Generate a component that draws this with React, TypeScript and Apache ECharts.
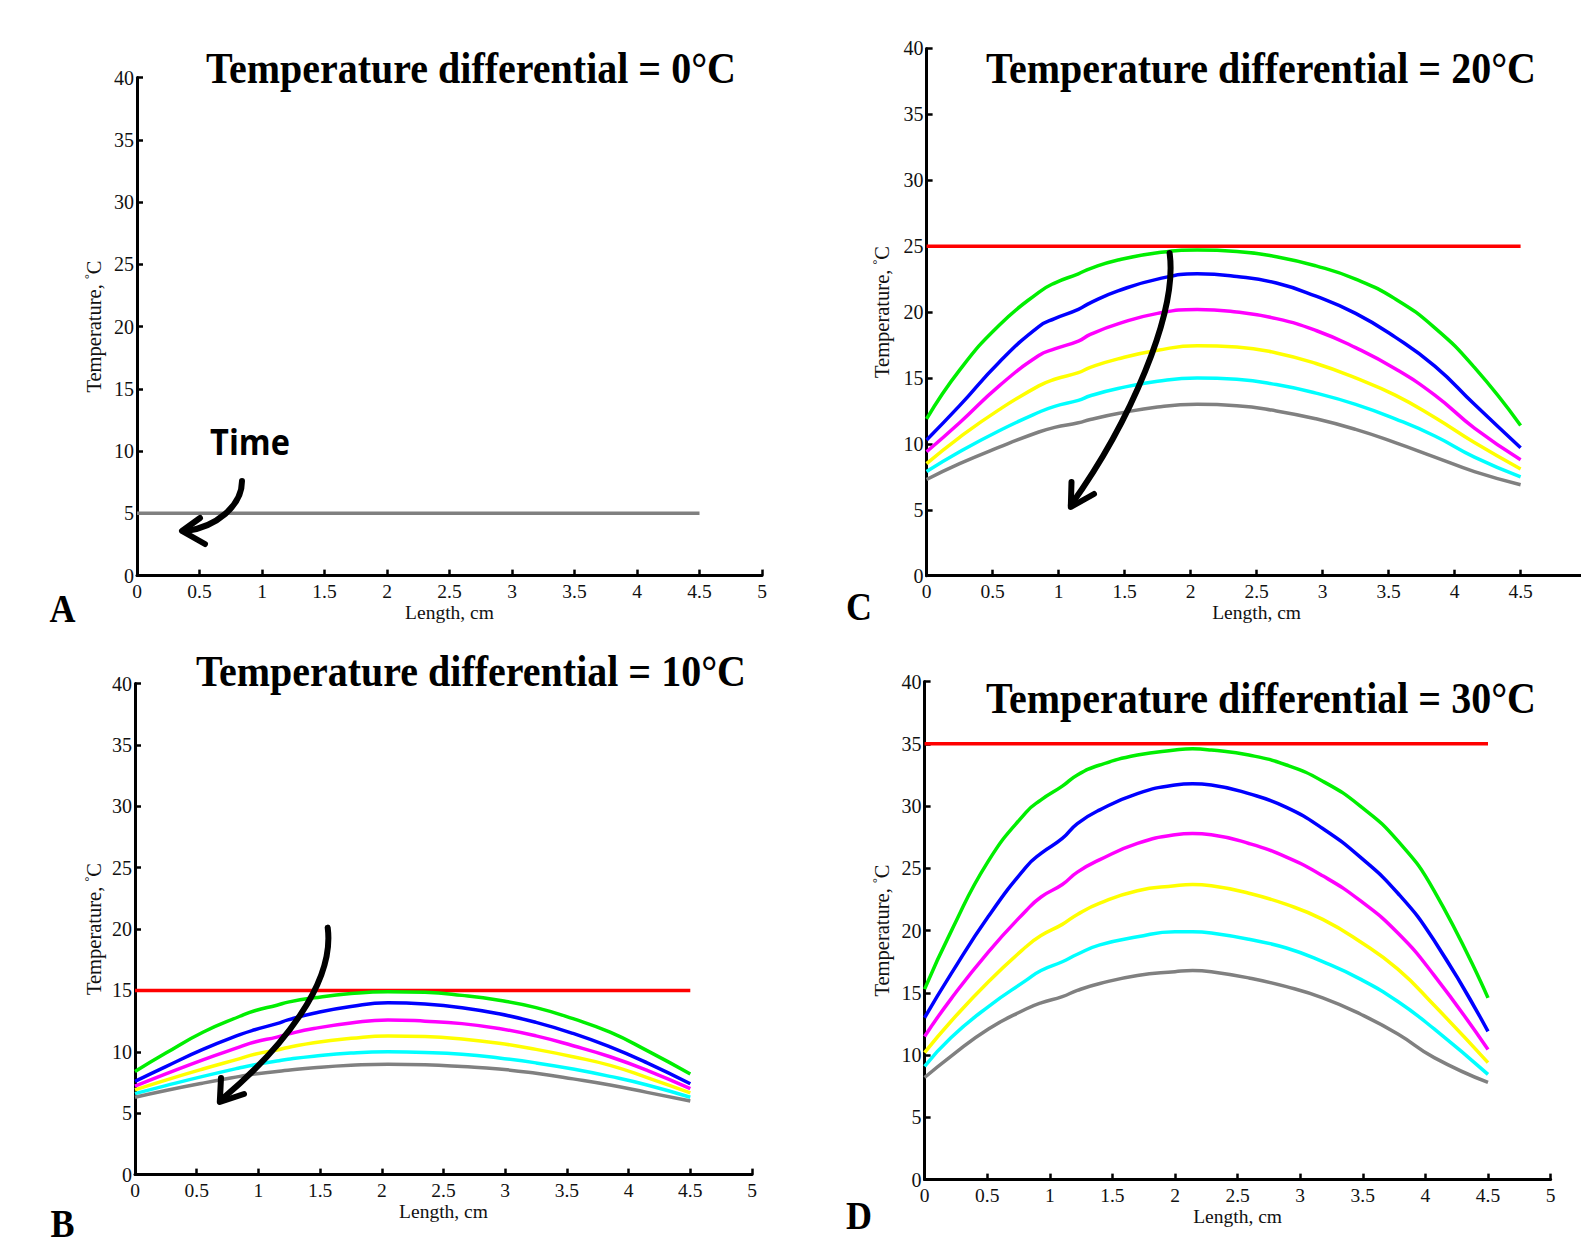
import React, { useEffect, useRef } from "react";
import * as echarts from "echarts";

// ---- data ----
const xTicksMax = 5;
const yTicksMax = 40;

const panelTitles = [
  "Temperature differential = 0°C",
  "Temperature differential = 10°C",
  "Temperature differential = 20°C",
  "Temperature differential = 30°C",
];
const panelLetters = ["A", "B", "C", "D"];
const seriesColors = ["#00ee00", "#0000ff", "#ff00ff", "#ffff00", "#00ffff", "#808080"];

// Panel A: single initial line
const xA = [0, 4.5];
const grayA = [5, 5];

// Panel B (differential 10)
const xB = [0, 0.25, 0.55, 0.85, 0.97, 1.15, 1.24, 1.45, 1.75, 2.05, 2.35, 2.65, 2.95, 3.25, 3.55, 3.85, 4.15, 4.5];
const redB = 15;
const greenB = [8.4, 9.9, 11.6, 12.9, 13.35, 13.8, 14.05, 14.4, 14.75, 14.9, 14.85, 14.6, 14.2, 13.6, 12.7, 11.6, 10.1, 8.2];
const blueB = [7.6, 8.8, 10.2, 11.4, 11.8, 12.3, 12.6, 13.15, 13.7, 14.0, 13.9, 13.6, 13.1, 12.4, 11.5, 10.4, 9.1, 7.4];
const magentaB = [7.2, 8.2, 9.35, 10.4, 10.8, 11.2, 11.45, 11.9, 12.35, 12.6, 12.5, 12.3, 11.9, 11.3, 10.5, 9.6, 8.5, 7.0];
const yellowB = [6.9, 7.7, 8.6, 9.45, 9.8, 10.15, 10.35, 10.75, 11.1, 11.3, 11.25, 11.05, 10.7, 10.2, 9.6, 8.9, 7.9, 6.65];
const cyanB = [6.6, 7.25, 8.0, 8.7, 8.95, 9.25, 9.4, 9.65, 9.9, 10.0, 9.95, 9.8, 9.5, 9.1, 8.6, 8.0, 7.3, 6.3];
const grayB = [6.3, 6.85, 7.45, 8.0, 8.2, 8.4, 8.5, 8.7, 8.9, 9.0, 8.95, 8.8, 8.6, 8.25, 7.8, 7.3, 6.7, 6.0];

// Panel C (differential 20)
const xC = [0, 0.25, 0.55, 0.85, 0.97, 1.15, 1.24, 1.45, 1.75, 2.05, 2.35, 2.65, 2.95, 3.25, 3.55, 3.85, 4.15, 4.5];
const redC = 25;
const greenC = [11.9, 15.6, 19.0, 21.5, 22.2, 22.9, 23.3, 23.95, 24.5, 24.7, 24.6, 24.2, 23.5, 22.5, 21.0, 18.8, 15.8, 11.4];
const blueC = [10.3, 12.9, 16.2, 18.9, 19.5, 20.2, 20.7, 21.6, 22.5, 22.9, 22.7, 22.2, 21.2, 19.9, 18.1, 15.9, 13.0, 9.7];
const magentaC = [9.4, 11.6, 14.4, 16.7, 17.2, 17.8, 18.3, 19.1, 19.9, 20.2, 20.0, 19.5, 18.6, 17.3, 15.7, 13.7, 11.2, 8.8];
const yellowC = [8.5, 10.5, 12.6, 14.4, 14.9, 15.4, 15.8, 16.45, 17.1, 17.45, 17.35, 16.9, 16.1, 15.0, 13.7, 12.0, 10.1, 8.1];
const cyanC = [7.9, 9.4, 11.0, 12.4, 12.85, 13.3, 13.65, 14.2, 14.75, 15.0, 14.9, 14.5, 13.85, 13.0, 11.9, 10.6, 9.0, 7.5];
const grayC = [7.3, 8.5, 9.75, 10.9, 11.25, 11.6, 11.85, 12.3, 12.8, 13.0, 12.9, 12.5, 11.9, 11.1, 10.1, 9.0, 7.9, 6.9];

// Panel D (differential 30)
const xD = [0, 0.21, 0.51, 0.81, 0.93, 1.10, 1.22, 1.40, 1.70, 2.0, 2.14, 2.29, 2.59, 2.89, 3.18, 3.48, 3.78, 4.07, 4.5];
const redD = 35;
const greenD = [15.3, 19.9, 25.6, 29.5, 30.5, 31.6, 32.5, 33.3, 34.1, 34.5, 34.6, 34.5, 34.1, 33.3, 32.0, 30.0, 27.2, 23.2, 14.6];
const blueD = [13.0, 16.5, 21.15, 25.1, 26.2, 27.4, 28.6, 29.7, 31.0, 31.7, 31.8, 31.7, 31.0, 29.9, 28.2, 25.9, 23.0, 19.2, 11.9];
const magentaD = [11.5, 14.5, 18.3, 21.6, 22.7, 23.7, 24.7, 25.7, 27.0, 27.7, 27.8, 27.7, 27.0, 25.9, 24.4, 22.4, 19.8, 16.4, 10.45];
const yellowD = [10.2, 12.7, 15.9, 18.7, 19.6, 20.5, 21.3, 22.2, 23.2, 23.6, 23.7, 23.6, 23.0, 22.1, 20.9, 19.1, 16.9, 14.0, 9.4];
const cyanD = [9.1, 11.4, 13.9, 16.0, 16.8, 17.5, 18.1, 18.85, 19.5, 19.9, 19.9, 19.8, 19.3, 18.6, 17.5, 16.1, 14.3, 12.1, 8.45];
const grayD = [8.2, 9.9, 12.1, 13.7, 14.2, 14.7, 15.2, 15.75, 16.4, 16.7, 16.8, 16.7, 16.2, 15.5, 14.6, 13.3, 11.7, 9.8, 7.8];

const redStartEnd = [0, 4.5];

// ---- layout ----
const grids = [
  { left: 137, top: 77.6, width: 625, height: 498 },
  { left: 135, top: 683.6, width: 617, height: 491 },
  { left: 926.6, top: 48.4, width: 660, height: 527.3 },
  { left: 924.6, top: 681.6, width: 626, height: 498 },
];
const titlePos = [
  [471, 67.5],
  [471, 670.5],
  [1261, 67.5],
  [1261, 697.7],
];
const letterPos = [
  [62.5, 608],
  [62.5, 1223],
  [859, 606],
  [859, 1215],
];
const yNameGap = [32, 30, 33.5, 31.5];

const SERIF = '"Liberation Serif", "Times New Roman", serif';

function pairs(xs: number[], ys: number[]) {
  return xs.map((x, i) => [x, ys[i]]);
}

export default function App() {
  const ref = useRef<HTMLDivElement>(null);
  useEffect(() => {
    if (!ref.current) return;
    const chart = echarts.init(ref.current, null, { renderer: "svg" });

    const xAxes = grids.map((_, i) => ({
      type: "value",
      gridIndex: i,
      min: 0,
      max: xTicksMax,
      interval: 0.5,
      name: "Length, cm",
      nameLocation: "middle",
      nameGap: 27,
      nameTextStyle: { fontFamily: SERIF, fontSize: 19.5, color: "#111" },
      axisLine: { show: true, onZero: false, lineStyle: { color: "#000", width: 3 } },
      axisTick: { show: true, inside: true, length: 6, lineStyle: { color: "#000", width: 2.5 } },
      axisLabel: {
        fontFamily: SERIF,
        fontSize: 19.5,
        color: "#111",
        margin: 6,
        showMaxLabel: i === 2 ? false : true,
      },
      splitLine: { show: false },
    }));
    const yAxes = grids.map((_, i) => ({
      type: "value",
      gridIndex: i,
      min: 0,
      max: yTicksMax,
      interval: 5,
      name: "Temperature, {s|°}C",
      nameLocation: "middle",
      nameRotate: 90,
      nameGap: yNameGap[i],
      nameTextStyle: {
        fontFamily: SERIF,
        fontSize: 20.5,
        lineHeight: 22,
        color: "#111",
        rich: { s: { fontFamily: SERIF, fontSize: 12, lineHeight: 12, verticalAlign: "top", color: "#111" } },
      },
      axisLine: { show: true, onZero: false, lineStyle: { color: "#000", width: 3 } },
      axisTick: { show: true, inside: true, length: 6, lineStyle: { color: "#000", width: 2.5 } },
      axisLabel: { fontFamily: SERIF, fontSize: 20, color: "#111", margin: 3 },
      splitLine: { show: false },
    }));

    const mk = (gi: number, data: number[][], color: string, z = 2) => ({
      type: "line",
      xAxisIndex: gi,
      yAxisIndex: gi,
      data,
      smooth: 0.5,
      showSymbol: false,
      symbol: "none",
      z,
      lineStyle: { color, width: 3.5 },
      silent: true,
    });

    const series: any[] = [];
    series.push(mk(0, pairs(xA, grayA), seriesColors[5]));

    const panels = [
      { gi: 1, xs: xB, red: redB, ys: [greenB, blueB, magentaB, yellowB, cyanB, grayB] },
      { gi: 2, xs: xC, red: redC, ys: [greenC, blueC, magentaC, yellowC, cyanC, grayC] },
      { gi: 3, xs: xD, red: redD, ys: [greenD, blueD, magentaD, yellowD, cyanD, grayD] },
    ];
    panels.forEach((p) => {
      series.push(mk(p.gi, redStartEnd.map((x) => [x, p.red]), "#ff0000"));
      p.ys.forEach((ys, k) => series.push(mk(p.gi, pairs(p.xs, ys), seriesColors[k])));
    });

    const arrowStyle = { stroke: "#000", lineWidth: 6, fill: "none", lineCap: "round", lineJoin: "round" };
    const graphics: any[] = [];
    panelTitles.forEach((t, i) => {
      graphics.push({
        type: "text",
        x: titlePos[i][0],
        y: titlePos[i][1],
        scaleY: 1.12,
        z: 10,
        style: {
          text: t,
          font: `bold 40px ${SERIF}`,
          fill: "#000",
          textAlign: "center",
          textVerticalAlign: "middle",
        },
      });
    });
    panelLetters.forEach((t, i) => {
      graphics.push({
        type: "text",
        x: letterPos[i][0],
        y: letterPos[i][1],
        scaleY: 1.1,
        z: 10,
        style: {
          text: t,
          font: `bold 36px ${SERIF}`,
          fill: "#000",
          textAlign: "center",
          textVerticalAlign: "middle",
        },
      });
    });
    graphics.push({
      type: "text",
      x: 250,
      y: 442,
      scaleY: 1.08,
      z: 10,
      style: {
        text: "Time",
        font: 'bold 32.5px "Open Sans", "DejaVu Sans", sans-serif',
        fill: "#000",
        textAlign: "center",
        textVerticalAlign: "middle",
      },
    });
    // arrows
    const arrows = [
      { p: [242, 481, 242, 506, 216, 527, 186, 531], head: [[200, 518], [182, 531], [205, 544]] },
      { p: [327.7, 927.6, 335, 983, 282, 1049, 221, 1100], head: [[221, 1078], [219.8, 1102], [244, 1094]] },
      { p: [1169.6, 253, 1178, 313, 1129, 424, 1071, 505], head: [[1071.5, 482], [1070.8, 507], [1094, 494]] },
    ];
    arrows.forEach((a) => {
      graphics.push({
        type: "bezierCurve",
        z: 20,
        shape: { x1: a.p[0], y1: a.p[1], cpx1: a.p[2], cpy1: a.p[3], cpx2: a.p[4], cpy2: a.p[5], x2: a.p[6], y2: a.p[7] },
        style: arrowStyle,
      });
      graphics.push({
        type: "polyline",
        z: 20,
        shape: { points: a.head },
        style: arrowStyle,
      });
    });

    chart.setOption({
      animation: false,
      backgroundColor: "#ffffff",
      grid: grids.map((g) => ({ ...g, containLabel: false, outerBoundsMode: "none" })),
      xAxis: xAxes,
      yAxis: yAxes,
      series,
      graphic: { elements: graphics },
    });
    return () => chart.dispose();
  }, []);
  return (
    <div
      ref={ref}
      style={{ position: "absolute", left: 0, top: 0, width: 1581, height: 1244, background: "#fff" }}
    />
  );
}
